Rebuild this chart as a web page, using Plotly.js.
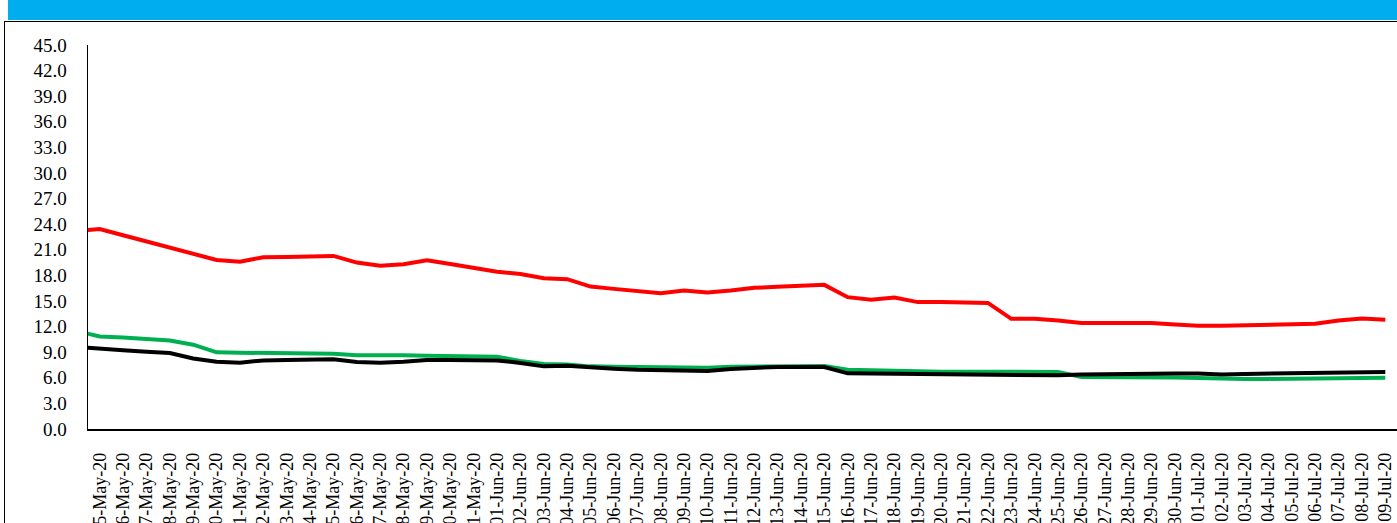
<!DOCTYPE html>
<html>
<head>
<meta charset="utf-8">
<script src="https://cdn.plot.ly/plotly-3.0.1.min.js"></script>
<style>
  html, body { margin: 0; padding: 0; background: #ffffff; width: 1397px; height: 523px; overflow: hidden; }
  #bar { position: absolute; left: 8px; top: 0; width: 1389px; height: 20px; background: #00AEEF; }
  #frame { position: absolute; left: 4px; top: 21px; width: 1393px; height: 502px; border-left: 1px solid #000; border-top: 1px solid #000; }
  #chart { position: absolute; left: 0; top: 0; width: 1397px; height: 523px; }
</style>
</head>
<body>
<div id="bar"></div>
<div id="frame"></div>
<div id="chart"></div>
<script>
const dates = [
  "14-May-20","15-May-20","16-May-20","17-May-20","18-May-20","19-May-20","20-May-20","21-May-20","22-May-20",
  "23-May-20","24-May-20","25-May-20","26-May-20","27-May-20","28-May-20","29-May-20","30-May-20","31-May-20",
  "01-Jun-20","02-Jun-20","03-Jun-20","04-Jun-20","05-Jun-20","06-Jun-20","07-Jun-20","08-Jun-20","09-Jun-20",
  "10-Jun-20","11-Jun-20","12-Jun-20","13-Jun-20","14-Jun-20","15-Jun-20","16-Jun-20","17-Jun-20","18-Jun-20",
  "19-Jun-20","20-Jun-20","21-Jun-20","22-Jun-20","23-Jun-20","24-Jun-20","25-Jun-20","26-Jun-20","27-Jun-20",
  "28-Jun-20","29-Jun-20","30-Jun-20","01-Jul-20","02-Jul-20","03-Jul-20","04-Jul-20","05-Jul-20","06-Jul-20",
  "07-Jul-20","08-Jul-20","09-Jul-20"
];

const redSeries = [
  23.20, 23.43, 22.71, 21.98, 21.26, 20.54, 19.81, 19.61, 20.13,
  20.17, 20.22, 20.28, 19.50, 19.14, 19.31, 19.78, 19.33, 18.89,
  18.44, 18.17, 17.67, 17.56, 16.69, 16.42, 16.19, 15.92, 16.22,
  15.99, 16.22, 16.54, 16.66, 16.81, 16.89, 15.45, 15.14, 15.40,
  14.87, 14.87, 14.87, 14.78, 12.91, 12.91, 12.72, 12.41, 12.41,
  12.41, 12.41, 12.25, 12.10, 12.10, 12.18, 12.25, 12.30, 12.33,
  12.72, 12.95, 12.80
];

const greenSeries = [
  11.48, 10.85, 10.71, 10.55, 10.38, 9.88, 8.98, 8.94, 8.91,
  8.87, 8.85, 8.82, 8.63, 8.67, 8.64, 8.59, 8.56, 8.51,
  8.47, 7.97, 7.62, 7.57, 7.34, 7.30, 7.27, 7.22, 7.19,
  7.19, 7.30, 7.34, 7.39, 7.39, 7.39, 6.95, 6.87, 6.80,
  6.72, 6.72, 6.72, 6.72, 6.69, 6.69, 6.69, 6.10, 6.10,
  6.10, 6.10, 6.04, 5.98, 5.87, 5.87, 5.87, 5.88, 5.90,
  5.96, 5.98, 6.02
];

const blackSeries = [
  9.61, 9.37, 9.22, 9.06, 8.91, 8.27, 7.89, 7.77, 8.04,
  8.08, 8.12, 8.16, 7.85, 7.77, 7.89, 8.09, 8.08, 8.06,
  8.04, 7.74, 7.34, 7.42, 7.19, 7.07, 6.95, 6.87, 6.80,
  6.80, 7.04, 7.19, 7.27, 7.27, 7.27, 6.52, 6.49, 6.45,
  6.40, 6.40, 6.40, 6.37, 6.31, 6.29, 6.29, 6.40, 6.45,
  6.49, 6.52, 6.51, 6.49, 6.40, 6.45, 6.49, 6.51, 6.52,
  6.55, 6.60, 6.69
];

const yTicks = [0, 3, 6, 9, 12, 15, 18, 21, 24, 27, 30, 33, 36, 39, 42, 45];

const traces = [
  { x: dates, y: redSeries, type: 'scatter', mode: 'lines', line: { color: '#FF0000', width: 4 }, hoverinfo: 'skip' },
  { x: dates, y: greenSeries, type: 'scatter', mode: 'lines', line: { color: '#00B050', width: 4 }, hoverinfo: 'skip' },
  { x: dates, y: blackSeries, type: 'scatter', mode: 'lines', line: { color: '#000000', width: 4 }, hoverinfo: 'skip' }
];

const layout = {
  width: 1397, height: 523,
  margin: { l: 88, r: 0, t: 45, b: 94 },
  paper_bgcolor: 'rgba(0,0,0,0)',
  plot_bgcolor: 'rgba(0,0,0,0)',
  showlegend: false,
  font: { family: '"Liberation Serif", "Times New Roman", serif', color: '#000' },
  xaxis: {
    type: 'category',
    categoryorder: 'array', categoryarray: dates,
    range: [0.5, dates.length - 0.5],
    tickangle: -90,
    showgrid: false, zeroline: false,
    showline: true, linecolor: '#000', linewidth: 1.5,
    ticks: '',
    ticklabelstandoff: 15,
    tickfont: { family: '"Liberation Serif", "Times New Roman", serif', size: 18, color: '#000' }
  },
  yaxis: {
    range: [0, 45],
    tickmode: 'array', tickvals: yTicks, ticktext: yTicks.map(v => v.toFixed(1)),
    showgrid: false, zeroline: false,
    showline: true, linecolor: '#000', linewidth: 1.5,
    ticks: '',
    ticklabelstandoff: 16,
    tickfont: { family: '"Liberation Serif", "Times New Roman", serif', size: 19, color: '#000' }
  }
};

Plotly.newPlot('chart', traces, layout, { staticPlot: true, displayModeBar: false });
</script>
</body>
</html>
